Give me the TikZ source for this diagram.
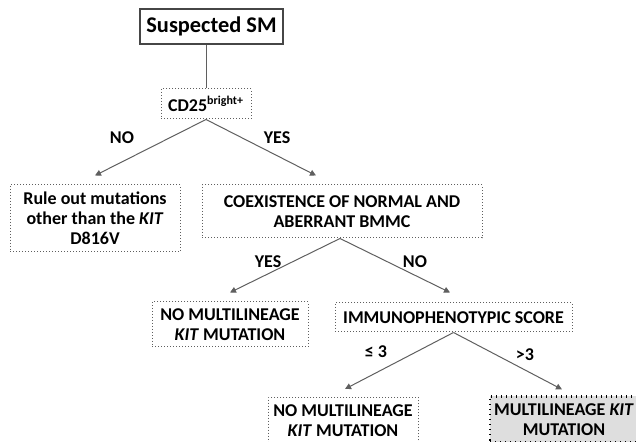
\documentclass[tikz,border=0pt]{standalone}
\usepackage{fontspec}
\setmainfont{Carlito}
\usetikzlibrary{arrows.meta, positioning}
\definecolor{mydark}{RGB}{70,70,70}
\definecolor{myline}{RGB}{95,95,95}
\definecolor{myfill}{RGB}{222,222,222}
\tikzset{
  box/.style={rectangle, draw=myline, densely dotted, line width=0.5pt,
    align=center, inner sep=1pt, font=\fontsize{9}{10}\selectfont\bfseries},
  topbox/.style={rectangle, draw=mydark, line width=0.8pt, align=center,
    minimum width=70.5pt, minimum height=17.5pt, font=\fontsize{11.2}{13}\selectfont\bfseries},
  hotbox/.style={box, draw=black, fill=myfill, dotted, line width=1.1pt},
  arrow/.style={-{Triangle[length=3pt,width=3pt]}, line width=0.5pt, color=myline},
  line/.style={line width=0.5pt, color=myline},
  lbl/.style={font=\fontsize{9}{10}\selectfont\bfseries}
}
\begin{document}
\begin{tikzpicture}[x=0.5pt, y=-0.5pt]
  \useasboundingbox (0,0) rectangle (636,442);

  % Top of the tree
  \node[topbox] (sm) at (211.5,26.5) {Suspected SM};
  \node[box, minimum width=45pt, minimum height=15pt] (cd) at (206,104) {CD25\textsuperscript{bright+}};
  \draw[line] (sm.south -| cd.north) -- (cd.north);

  % First split
  \node[box, minimum width=85pt, minimum height=33.5pt] (rule) at (95,218.5)
    {Rule out mutations\\other than the \textit{KIT}\\D816V};
  \node[box, minimum width=140pt, minimum height=26.5pt] (coex) at (342,211.5)
    {COEXISTENCE OF NORMAL AND\\ABERRANT BMMC};
  \draw[arrow] (cd.south) -- ([yshift=4.5pt]rule.north);
  \draw[arrow] (cd.south) -- ([xshift=-13pt,yshift=4.5pt]coex.north);
  \node[lbl] (no1) at (122,138) {NO};
  \node[lbl] (yes1) at (277,138) {YES};

  % Second split
  \node[box, minimum width=78pt, minimum height=22.5pt] (nomul) at (230,324.5)
    {NO MULTILINEAGE\\\textit{KIT} MUTATION};
  \node[box, minimum width=118.5pt, minimum height=14.5pt] (score) at (453.5,317.5)
    {IMMUNOPHENOTYPIC SCORE};
  \draw[arrow] ([xshift=-1pt]coex.south) -- ([yshift=4.5pt]nomul.north);
  \draw[arrow] ([xshift=-1pt]coex.south) -- ([xshift=-1.75pt,yshift=5pt]score.north);
  \node[lbl] (yes2) at (268,262) {YES};
  \node[lbl] (no2) at (415,262) {NO};

  % Third split
  \node[box, minimum width=75pt, minimum height=23pt] (nomultwo) at (343,420.5)
    {NO MULTILINEAGE\\\textit{KIT} MUTATION};
  \node[hotbox, minimum width=74pt, minimum height=23pt] (mulkit) at (564,419.5)
    {MULTILINEAGE \textit{KIT}\\MUTATION};
  \draw[arrow] (score.south) -- ([xshift=1pt,yshift=4pt]nomultwo.north);
  \draw[arrow] (score.south) -- ([xshift=-1pt,yshift=3pt]mulkit.north);
  \node[lbl] (le3) at (376,352) {≤ 3};
  \node[lbl] (gt3) at (525,355) {>3};
\end{tikzpicture}
\end{document}
